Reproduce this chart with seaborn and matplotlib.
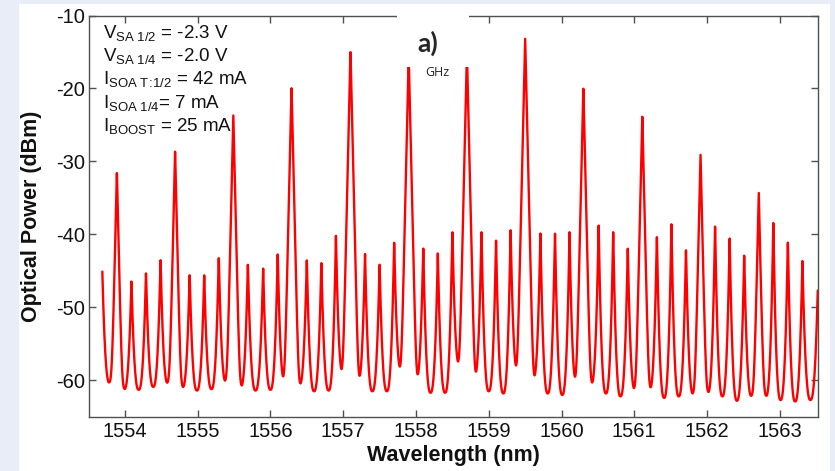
import numpy as np
import pandas as pd
import matplotlib
matplotlib.use('Agg')
import matplotlib.pyplot as plt
import seaborn as sns
from matplotlib.patches import Rectangle

sns.set_style("ticks")
plt.rcParams['font.family'] = ['Liberation Sans', 'DejaVu Sans']
plt.rcParams['mathtext.fontset'] = 'custom'
plt.rcParams['mathtext.rm'] = 'Liberation Sans'
plt.rcParams['mathtext.it'] = 'Liberation Sans:italic'
plt.rcParams['axes.unicode_minus'] = False

### mode positions (nm) and side-mode peak levels (dBm)
mode_nm = [1553.69, 1553.89, 1554.09, 1554.29, 1554.49, 1554.69, 1554.89, 1555.09, 1555.29, 1555.49,
           1555.69, 1555.90, 1556.10, 1556.29, 1556.50, 1556.70, 1556.90, 1557.10, 1557.30, 1557.50,
           1557.70, 1557.90, 1558.10, 1558.30, 1558.50, 1558.70, 1558.90, 1559.10, 1559.30, 1559.50,
           1559.71, 1559.91, 1560.11, 1560.30, 1560.51, 1560.71, 1560.91, 1561.11, 1561.31, 1561.51,
           1561.71, 1561.91, 1562.11, 1562.31, 1562.51, 1562.71, 1562.91, 1563.11, 1563.31, 1563.53]
base_db = [-45.1, -44.0, -46.4, -45.2, -43.4, -44.0, -45.4, -45.6, -43.0, -43.0,
           -44.0, -44.6, -42.6, -42.0, -43.5, -43.7, -40.2, -41.0, -42.6, -44.0,
           -41.0, -41.0, -41.7, -42.6, -39.4, -40.0, -39.5, -40.7, -39.3, -40.0,
           -39.8, -39.6, -39.7, -39.0, -38.7, -39.5, -41.8, -40.0, -40.1, -38.6,
           -41.9, -40.0, -38.7, -40.4, -42.8, -40.0, -38.4, -40.8, -43.6, -44.0]
# minimum between mode k and k+1
trough_db = [-60.4, -61.3, -61.3, -60.9, -60.5, -61.1, -61.4, -61.2, -60.4, -61.1,
             -61.4, -61.3, -60.3, -60.9, -61.5, -61.4, -59.5, -60.5, -61.5, -61.5,
             -59.0, -60.2, -61.7, -61.7, -58.3, -59.9, -61.5, -61.8, -59.2, -60.4,
             -61.8, -62.0, -60.4, -60.8, -61.8, -62.2, -61.5, -61.4, -62.4, -62.2,
             -62.0, -61.8, -62.2, -62.8, -62.2, -62.2, -62.7, -62.9, -62.7]
# the strong lines every 4th mode
spike_nm = [1553.89, 1554.69, 1555.49, 1556.29, 1557.10, 1557.90,
            1558.70, 1559.50, 1560.30, 1561.11, 1561.91, 1562.71]
spike_db = [-31.6, -28.7, -23.7, -19.8, -14.8, -15.5,
            -15.0, -13.0, -19.9, -23.9, -29.4, -35.4]

x_ticks = [1554, 1555, 1556, 1557, 1558, 1559, 1560, 1561, 1562, 1563]
y_ticks = [-60, -50, -40, -30, -20, -10]
notes = [r'V$_{\rm SA\ 1/2}$ = -2.3 V',
         r'V$_{\rm SA\ 1/4}$ = -2.0 V',
         r'I$_{\rm SOA\ T\!:\!1/2}$ = 42 mA',
         r'I$_{\rm SOA\ 1/4}$= 7 mA',
         r'I$_{\rm BOOST}$ = 25 mA']

### build the trace
m = np.array(mode_nm)
b = np.array(base_db)
t = np.array(trough_db)
p = 2.5
lam = np.linspace(m[0], 1563.6, 8000)
base = np.zeros_like(lam)
for i, x in enumerate(lam):
    j = min(np.searchsorted(m, x, side='right') - 1, len(m) - 1)
    if j < len(m) - 1:
        mid = (m[j] + m[j + 1]) / 2
        if x < mid:
            u = (x - m[j]) / (mid - m[j])
            base[i] = t[j] + (b[j] - t[j]) * (1 - u) ** p
        else:
            u = (m[j + 1] - x) / (m[j + 1] - mid)
            base[i] = t[j] + (b[j + 1] - t[j]) * (1 - u) ** p
    else:
        u = min((x - m[j]) / 0.1, 1)
        base[i] = t[-1] + (b[j] - t[-1]) * (1 - u) ** p
lin = 10 ** (base / 10)
for sl, sd in zip(spike_nm, spike_db):
    lin += 10 ** ((sd - 430 * np.abs(lam - sl)) / 10)
df = pd.DataFrame({'nm': lam, 'dBm': 10 * np.log10(lin)})

### figure
W, H = 835, 471
fig = plt.figure(figsize=(W / 100, H / 100), dpi=100, facecolor='#e8edf7')
fig.patches.append(Rectangle((19 / W, 0), (830 - 19) / W, 1 - 4 / H, transform=fig.transFigure,
                             facecolor='white', edgecolor='none', zorder=-1))
ax = fig.add_axes([88.5 / W, 1 - 416.8 / H, (817.7 - 88.5) / W, (416.8 - 15.5) / H])
sns.lineplot(data=df, x='nm', y='dBm', color='red', lw=1.7, estimator=None, ax=ax)

ax.set_xlim(1553.5, 1563.52)
ax.set_ylim(-65, -10)
ax.set_xticks(x_ticks)
ax.set_yticks(y_ticks)
ax.set_xticklabels([str(v) for v in x_ticks])
ax.set_yticklabels([str(v) for v in y_ticks])
for s in ax.spines.values():
    s.set_visible(True)
    s.set_color('#505050')
    s.set_linewidth(1.0)
ax.tick_params(direction='in', length=5, width=1, color='#505050', top=True, right=True,
               labelsize=14.5, labelcolor='#111111')
ax.tick_params(axis='x', pad=4)
ax.tick_params(axis='y', pad=2.5)
ax.set_xlabel('Wavelength (nm)', fontsize=15.5, fontweight='bold', color='#111111')
ax.set_ylabel('Optical Power (dBm)', fontsize=15.5, fontweight='bold', color='#111111')
ax.xaxis.set_label_coords(0.5, -0.07)
ax.yaxis.set_label_coords(-0.064, 0.5)

# white label box over the top of the plot
fig.patches.append(Rectangle((397 / W, 1 - 66.5 / H), 72 / W, 61.5 / H, transform=fig.transFigure,
                             facecolor='white', edgecolor='none', zorder=5))
fig.text(428 / W, 1 - 43 / H, 'a)', fontsize=19, fontweight='bold', family=['Lato', 'DejaVu Sans'],
         ha='center', va='center', zorder=6)
fig.text(437 / W, 1 - 75.5 / H, 'GHz', fontsize=9, family=['Open Sans', 'DejaVu Sans'],
         ha='center', va='baseline', zorder=4, color='#222222')

for k, s in enumerate(notes):
    fig.text(103 / W, 1 - (37.7 + 23.3 * k) / H, s, fontsize=13.5, va='baseline', ha='left', color='#111111')

fig.savefig('out.png', dpi=100, facecolor=fig.get_facecolor())
